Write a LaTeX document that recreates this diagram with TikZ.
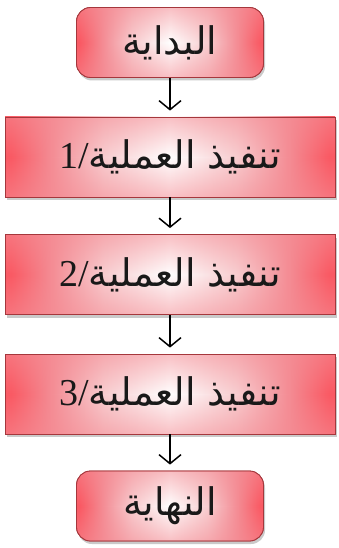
\documentclass[tikz,border=0pt]{standalone}
\usepackage{fontspec}
\setmainfont{Liberation Serif}
\newfontfamily\arabicfont[Script=Arabic]{DejaVu Sans}
\TeXXeTstate=1
\usetikzlibrary{arrows.meta,shadows,fadings}
\definecolor{edgered}{RGB}{250,90,100}
\definecolor{redpink}{RGB}{244,140,148}
\definecolor{lightpink}{RGB}{248,205,208}
\definecolor{borderred}{RGB}{165,55,60}
\pgfdeclarehorizontalshading{boxglow}{100bp}{%
  color(0bp)=(edgered); color(26bp)=(edgered); color(32bp)=(redpink);
  color(40bp)=(lightpink); color(50bp)=(white);
  color(60bp)=(lightpink); color(68bp)=(redpink); color(74bp)=(edgered); color(100bp)=(edgered)}
\tikzfading[name=tbfade, top color=transparent!45, bottom color=transparent!45, middle color=transparent!100]
\tikzset{
  base/.style={draw=borderred, line width=0.8pt, shading=boxglow,
    drop shadow={shadow xshift=1.5pt, shadow yshift=-3pt, opacity=0.35, fill=black!60},
    postaction={fill=redpink, path fading=tbfade},
    postaction={draw=borderred, line width=0.8pt}},
  term/.style={base, rounded corners=14pt, minimum width=187pt, minimum height=70pt},
  proc/.style={base, minimum width=330pt, minimum height=80pt},
  arr/.style={line width=1.5pt, -{Straight Barb[length=9pt,width=22pt,line width=1.5pt]}, shorten >=6pt},
  lbl/.style={text=black!90, font=\fontsize{38}{44}\selectfont}
}
\newcommand{\ar}[1]{{\arabicfont\beginR #1\endR}}
\begin{document}
\begin{tikzpicture}[x=1pt,y=-1pt]
\useasboundingbox (0,0) rectangle (338,548);
\node[term, lbl] (start) at (170,42.5) {\ar{البداية}};
\node[proc, lbl] (p1) at (170,157) {1/\ar{تنفيذ العملية}};
\node[proc, lbl] (p2) at (170,274.5) {2/\ar{تنفيذ العملية}};
\node[proc, lbl] (p3) at (170,394) {3/\ar{تنفيذ العملية}};
\node[term, lbl] (end) at (170,506) {\ar{النهاية}};
\draw[arr] (start.south) -- (p1.north);
\draw[arr] (p1.south) -- (p2.north);
\draw[arr] (p2.south) -- (p3.north);
\draw[arr] (p3.south) -- (end.north);
\end{tikzpicture}
\end{document}
